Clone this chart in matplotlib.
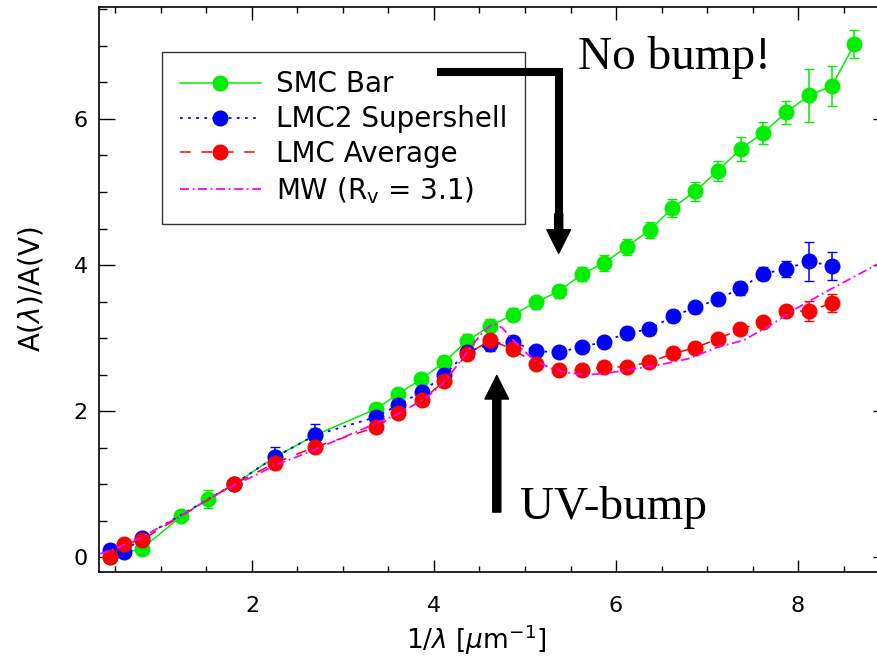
import matplotlib
matplotlib.use('Agg')
import matplotlib.pyplot as plt
from matplotlib.ticker import MultipleLocator

# --- data ---
smc_x = [0.44, 0.79, 1.22, 1.52, 1.80, 2.25, 2.69, 3.36, 3.60, 3.86, 4.11, 4.36, 4.62, 4.87,
         5.12, 5.37, 5.63, 5.87, 6.12, 6.37, 6.62, 6.87, 7.12, 7.37, 7.62, 7.87, 8.12, 8.37, 8.62]
smc_y = [0.01, 0.12, 0.56, 0.80, 1.00, 1.37, 1.67, 2.03, 2.23, 2.44, 2.67, 2.96, 3.17, 3.32,
         3.49, 3.64, 3.88, 4.03, 4.25, 4.48, 4.78, 5.01, 5.29, 5.59, 5.81, 6.09, 6.32, 6.45, 7.02]
smc_err = [0.03, 0.04, 0.05, 0.12, 0.04, 0.08, 0.10, 0.07, 0.08, 0.08, 0.09, 0.09, 0.09, 0.09,
           0.09, 0.09, 0.10, 0.11, 0.11, 0.11, 0.12, 0.13, 0.14, 0.16, 0.15, 0.16, 0.36, 0.27, 0.19]

lmc2_x = [0.44, 0.59, 0.79, 1.80, 2.25, 2.69, 3.36, 3.60, 3.87, 4.11, 4.36, 4.62, 4.87, 5.12,
          5.37, 5.63, 5.87, 6.12, 6.36, 6.63, 6.87, 7.12, 7.36, 7.62, 7.87, 8.12, 8.37]
lmc2_y = [0.10, 0.07, 0.27, 1.00, 1.37, 1.67, 1.92, 2.08, 2.27, 2.49, 2.81, 2.92, 2.95, 2.82,
          2.81, 2.88, 2.95, 3.07, 3.12, 3.30, 3.42, 3.53, 3.68, 3.88, 3.95, 4.05, 3.99]
lmc2_err = [0.03, 0.03, 0.04, 0.04, 0.14, 0.15, 0.07, 0.07, 0.07, 0.07, 0.08, 0.09, 0.08, 0.07,
            0.07, 0.07, 0.07, 0.08, 0.08, 0.08, 0.08, 0.08, 0.09, 0.09, 0.11, 0.27, 0.19]

lmc_x = [0.44, 0.59, 0.79, 1.80, 2.25, 2.69, 3.36, 3.60, 3.87, 4.11, 4.36, 4.62, 4.87, 5.12,
         5.37, 5.63, 5.87, 6.12, 6.36, 6.63, 6.87, 7.12, 7.36, 7.62, 7.87, 8.12, 8.37]
lmc_y = [0.01, 0.18, 0.24, 1.00, 1.29, 1.51, 1.78, 1.97, 2.15, 2.41, 2.78, 2.97, 2.85, 2.64,
         2.57, 2.57, 2.60, 2.61, 2.67, 2.79, 2.87, 2.99, 3.12, 3.22, 3.37, 3.37, 3.48]
lmc_err = [0.03, 0.03, 0.03, 0.03, 0.08, 0.04, 0.04, 0.04, 0.04, 0.04, 0.04, 0.04, 0.04, 0.04,
           0.04, 0.04, 0.04, 0.04, 0.04, 0.04, 0.04, 0.04, 0.05, 0.05, 0.06, 0.14, 0.12]

mw_x = [0.33, 0.44, 0.59, 0.79, 1.0, 1.22, 1.5, 1.82, 2.0, 2.27, 2.5, 2.7, 3.0, 3.3, 3.6, 3.9,
        4.1, 4.3, 4.45, 4.55, 4.62, 4.68, 4.75, 4.85, 4.95, 5.1, 5.3, 5.5, 5.7, 5.9, 6.2, 6.5,
        6.8, 7.1, 7.4, 7.7, 8.0, 8.3, 8.6, 8.9]
mw_y = [0.05, 0.09, 0.17, 0.28, 0.42, 0.57, 0.78, 1.00, 1.10, 1.27, 1.38, 1.48, 1.64, 1.80,
        1.96, 2.17, 2.38, 2.70, 2.95, 3.10, 3.17, 3.19, 3.14, 3.00, 2.87, 2.70, 2.58, 2.52,
        2.50, 2.52, 2.58, 2.64, 2.72, 2.87, 2.97, 3.18, 3.42, 3.63, 3.83, 4.03]

fig = plt.figure(figsize=(8.78, 6.65), dpi=100)
ax = fig.add_axes([0.1128, 0.1398, 0.8998, 0.8496])

ms = 10.5
smc = ax.errorbar(smc_x, smc_y, yerr=smc_err, fmt='o', ls='-', color='#00ee00', lw=1.1,
                  ms=ms, capsize=3.5, elinewidth=1.1, zorder=3)
lmc2 = ax.errorbar(lmc2_x, lmc2_y, yerr=lmc2_err, fmt='o', ls=(0, (1.5, 3)), color='#0000ff',
                   lw=1.3, ms=ms, capsize=3.5, elinewidth=1.1, zorder=4)
lmc = ax.errorbar(lmc_x, lmc_y, yerr=lmc_err, fmt='o', ls=(0, (7, 7)), color='#ff0000', lw=1.1,
                  ms=ms, capsize=3.5, elinewidth=1.1, zorder=5)
mw, = ax.plot(mw_x, mw_y, ls=(0, (5, 2, 1, 2)), color='#ff00ff', lw=1.3, zorder=6)

ax.set_xlim(0.32, 9.0)
ax.set_ylim(-0.2, 7.53)
ax.xaxis.set_major_locator(MultipleLocator(2))
ax.xaxis.set_minor_locator(MultipleLocator(0.5))
ax.yaxis.set_major_locator(MultipleLocator(2))
ax.yaxis.set_minor_locator(MultipleLocator(0.5))
ax.tick_params(which='both', direction='in', top=True, right=True, width=1.0, labelsize=16)
ax.tick_params(axis='x', which='major', length=9, pad=17)
ax.tick_params(axis='x', which='minor', length=4.5)
ax.tick_params(axis='y', which='major', length=11.5, pad=8)
ax.tick_params(axis='y', which='minor', length=6)
for sp in ax.spines.values():
    sp.set_linewidth(1.2)

ax.set_xlabel('1/$\\lambda$ [$\\mu$m$^{-1}$]', fontsize=19, labelpad=0)
ax.xaxis.set_label_coords(0.478, -0.09)
ax.set_ylabel('A($\\lambda$)/A(V)', fontsize=20, labelpad=20)

leg = ax.legend([smc[0], lmc2[0], lmc[0], mw],
                ['SMC Bar', 'LMC2 Supershell', 'LMC Average', 'MW (R$_{\\rm v}$ = 3.1)'],
                loc='upper left', bbox_to_anchor=(0.0797, 0.920), borderaxespad=0,
                fontsize=20, frameon=True, fancybox=False, edgecolor='black',
                handlelength=2.9, handletextpad=0.55, labelspacing=0.25,
                borderpad=0.65, numpoints=1)
leg.get_frame().set_linewidth(1.0)
leg.set_zorder(10)

# annotations
ax.plot([4.03, 5.37, 5.37], [6.64, 6.64, 4.6], color='black', lw=5.8,
        solid_joinstyle='miter', solid_capstyle='butt', zorder=11)
ax.annotate('', xy=(5.37, 4.16), xytext=(5.37, 4.7),
            arrowprops=dict(facecolor='black', edgecolor='black', width=5.8,
                            headwidth=17, headlength=17, shrink=0), zorder=11)
ax.annotate('', xy=(4.69, 2.49), xytext=(4.69, 0.62),
            arrowprops=dict(facecolor='black', edgecolor='black', width=5.8,
                            headwidth=17, headlength=17, shrink=0), zorder=11)
ax.text(5.58, 6.68, 'No bump!', family='Liberation Serif', fontsize=34, va='baseline', zorder=12)
ax.text(4.95, 0.52, 'UV-bump', family='Liberation Serif', fontsize=34, va='baseline', zorder=12)

plt.savefig('out.png', dpi=100)
